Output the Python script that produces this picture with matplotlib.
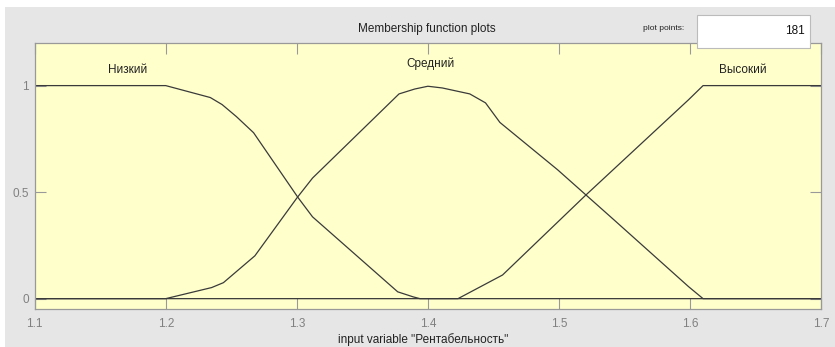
import matplotlib
matplotlib.use('Agg')
import matplotlib.pyplot as plt
from matplotlib.patches import Rectangle

plt.rcParams['font.family'] = ['Liberation Sans Narrow', 'Liberation Sans', 'DejaVu Sans']

# membership functions of "Рентабельность"
low_x = [1.1, 1.2, 1.234, 1.243, 1.254, 1.267, 1.301, 1.312, 1.377, 1.389, 1.394, 1.7]
low_y = [1, 1, 0.944, 0.911, 0.854, 0.779, 0.474, 0.384, 0.032, 0.008, 0, 0]

mid_x = [1.1, 1.2, 1.235, 1.244, 1.268, 1.3, 1.312, 1.378, 1.39, 1.4, 1.411,
         1.432, 1.444, 1.455, 1.499, 1.542, 1.599, 1.61, 1.7]
mid_y = [0, 0, 0.052, 0.075, 0.201, 0.472, 0.566, 0.961, 0.984, 0.997, 0.989,
         0.961, 0.919, 0.827, 0.605, 0.370, 0.056, 0, 0]

high_x = [1.1, 1.423, 1.457, 1.520, 1.599, 1.61, 1.7]
high_y = [0, 0, 0.111, 0.483, 0.934, 1, 1]

mf_names = ['Низкий', 'Средний', 'Высокий']
label_x = [1.171, 1.402, 1.64]
label_y = [1.075, 1.103, 1.075]

x_ticks = [1.1, 1.2, 1.3, 1.4, 1.5, 1.6, 1.7]
y_ticks = [0, 0.5, 1]
plot_points = 181

W, H = 835, 347
fig = plt.figure(figsize=(W / 100, H / 100), dpi=100, facecolor='white')

# gray window panel
fig.patches.append(Rectangle((5 / W, 0), 1, 1 - 7 / H, transform=fig.transFigure,
                             facecolor='#e6e6e6', edgecolor='none', zorder=-5))

ax = fig.add_axes([34.7 / W, 1 - 309.3 / H, (821 - 34.7) / W, (309.3 - 43) / H])
ax.set_facecolor('#ffffcc')

for xs, ys in [(low_x, low_y), (mid_x, mid_y), (high_x, high_y)]:
    ax.plot(xs, ys, color='#3a3a3a', lw=0.9)

for name, lx, ly in zip(mf_names, label_x, label_y):
    ax.text(lx, ly, name, ha='center', va='center', fontsize=8.5, color='#222222')

ax.set_xlim(1.1, 1.7)
ax.set_ylim(-0.05, 1.2)
ax.set_xticks(x_ticks)
ax.set_xticklabels([str(v) for v in x_ticks])
ax.set_yticks(y_ticks)
ax.set_yticklabels(['0', '0.5', '1'])
ax.tick_params(direction='in', length=8, width=0.8, top=True, right=True,
               color='#999999', labelcolor='#808080', labelsize=8.5)
ax.tick_params(axis='x', pad=6)
ax.tick_params(axis='y', pad=4)
for sp in ax.spines.values():
    sp.set_color('#999999')
    sp.set_linewidth(0.9)

fig.text(426.7 / W, 1 - 29 / H, 'Membership function plots', ha='center', va='center',
         fontsize=8.5, color='#222222')
fig.text(423 / W, 1 - 340 / H, 'input variable "Рентабельность"', ha='center', va='center',
         fontsize=8.5, color='#222222')

# plot points box
fig.patches.append(Rectangle((697.3 / W, 1 - 47.7 / H), 112.7 / W, 32.7 / H,
                             transform=fig.transFigure, facecolor='white',
                             edgecolor='#bbbbbb', lw=0.8, zorder=5))
fig.text(664 / W, 1 - 29 / H, 'plot points:', ha='center', va='center',
         fontsize=6, color='#222222')
fig.text(805 / W, 1 - 31 / H, str(plot_points), ha='right', va='center',
         fontsize=8.5, color='#111111', zorder=6)

fig.savefig('out.png', dpi=100)
